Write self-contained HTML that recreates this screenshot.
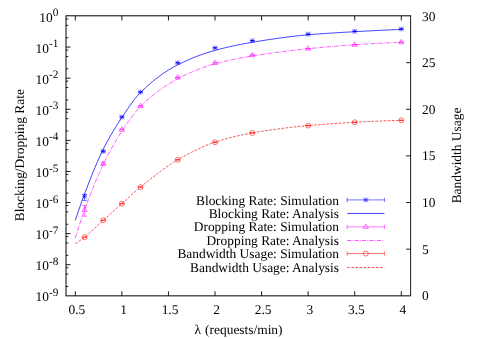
<!DOCTYPE html>
<html><head><meta charset="utf-8"><title>plot</title>
<style>html,body{margin:0;padding:0;background:#fff;}body{width:485px;height:339px;overflow:hidden;font-family:"Liberation Serif",serif;}</style>
</head><body>
<svg width="485" height="339" viewBox="0 0 485 339" style="display:block;will-change:transform">
<rect width="485" height="339" fill="#fff"/>
<g stroke="#000" stroke-width="0.9" fill="none">
<path d="M66.0,15.8 H410.6" stroke-width="1"/><path d="M66.0,15.5 V295.8" stroke-width="1"/><path d="M65.5,295.85 H411.05" stroke-width="1"/><path d="M410.6,15.3 V295.8" stroke-width="0.9"/>
<path d="M75.31,295.8 v-4.5 M75.31,16.0 v4.5"/>
<path d="M121.88,295.8 v-4.5 M121.88,16.0 v4.5"/>
<path d="M168.45,295.8 v-4.5 M168.45,16.0 v4.5"/>
<path d="M215.02,295.8 v-4.5 M215.02,16.0 v4.5"/>
<path d="M261.58,295.8 v-4.5 M261.58,16.0 v4.5"/>
<path d="M308.15,295.8 v-4.5 M308.15,16.0 v4.5"/>
<path d="M354.72,295.8 v-4.5 M354.72,16.0 v4.5"/>
<path d="M401.29,295.8 v-4.5 M401.29,16.0 v4.5"/>
<path d="M66.0,47.09 h4.5"/>
<path d="M66.0,78.18 h4.5"/>
<path d="M66.0,109.27 h4.5"/>
<path d="M66.0,140.36 h4.5"/>
<path d="M66.0,171.44 h4.5"/>
<path d="M66.0,202.53 h4.5"/>
<path d="M66.0,233.62 h4.5"/>
<path d="M66.0,264.71 h4.5"/>
</g>
<g stroke="#000" stroke-width="0.9" fill="none" id="minor">
<path d="M66.0,37.73 h2.25"/>
<path d="M66.0,25.36 h2.25"/>
<path d="M66.0,19.01 h2.25"/>
<path d="M66.0,68.82 h2.25"/>
<path d="M66.0,56.45 h2.25"/>
<path d="M66.0,50.10 h2.25"/>
<path d="M66.0,99.91 h2.25"/>
<path d="M66.0,87.54 h2.25"/>
<path d="M66.0,81.19 h2.25"/>
<path d="M66.0,131.00 h2.25"/>
<path d="M66.0,118.63 h2.25"/>
<path d="M66.0,112.28 h2.25"/>
<path d="M66.0,162.09 h2.25"/>
<path d="M66.0,149.71 h2.25"/>
<path d="M66.0,143.37 h2.25"/>
<path d="M66.0,193.17 h2.25"/>
<path d="M66.0,180.80 h2.25"/>
<path d="M66.0,174.46 h2.25"/>
<path d="M66.0,224.26 h2.25"/>
<path d="M66.0,211.89 h2.25"/>
<path d="M66.0,205.55 h2.25"/>
<path d="M66.0,255.35 h2.25"/>
<path d="M66.0,242.98 h2.25"/>
<path d="M66.0,236.64 h2.25"/>
<path d="M66.0,286.44 h2.25"/>
<path d="M66.0,274.07 h2.25"/>
<path d="M66.0,267.72 h2.25"/>
</g>
<g stroke="#000" stroke-width="0.9" fill="none">
<path d="M410.6,249.17 h-4.5"/>
<path d="M410.6,202.53 h-4.5"/>
<path d="M410.6,155.90 h-4.5"/>
<path d="M410.6,109.27 h-4.5"/>
<path d="M410.6,62.63 h-4.5"/>
</g>
<g font-family="Liberation Serif, serif" font-size="13.42px" fill="#000" text-rendering="geometricPrecision">
<text x="58.3" y="21.60" text-anchor="end">10<tspan font-size="11.3px" dy="-5.5">0</tspan></text>
<text x="58.3" y="52.69" text-anchor="end">10<tspan font-size="11.3px" dy="-5.5">-1</tspan></text>
<text x="58.3" y="83.78" text-anchor="end">10<tspan font-size="11.3px" dy="-5.5">-2</tspan></text>
<text x="58.3" y="114.87" text-anchor="end">10<tspan font-size="11.3px" dy="-5.5">-3</tspan></text>
<text x="58.3" y="145.96" text-anchor="end">10<tspan font-size="11.3px" dy="-5.5">-4</tspan></text>
<text x="58.3" y="177.04" text-anchor="end">10<tspan font-size="11.3px" dy="-5.5">-5</tspan></text>
<text x="58.3" y="208.13" text-anchor="end">10<tspan font-size="11.3px" dy="-5.5">-6</tspan></text>
<text x="58.3" y="239.22" text-anchor="end">10<tspan font-size="11.3px" dy="-5.5">-7</tspan></text>
<text x="58.3" y="270.31" text-anchor="end">10<tspan font-size="11.3px" dy="-5.5">-8</tspan></text>
<text x="58.3" y="301.40" text-anchor="end">10<tspan font-size="11.3px" dy="-5.5">-9</tspan></text>
<text x="76.91" y="314.0" text-anchor="middle">0.5</text>
<text x="123.48" y="314.0" text-anchor="middle">1</text>
<text x="170.05" y="314.0" text-anchor="middle">1.5</text>
<text x="216.62" y="314.0" text-anchor="middle">2</text>
<text x="263.18" y="314.0" text-anchor="middle">2.5</text>
<text x="309.75" y="314.0" text-anchor="middle">3</text>
<text x="356.32" y="314.0" text-anchor="middle">3.5</text>
<text x="402.89" y="314.0" text-anchor="middle">4</text>
<text x="422.1" y="300.30">0</text>
<text x="422.1" y="253.67">5</text>
<text x="422.1" y="207.03">10</text>
<text x="422.1" y="160.40">15</text>
<text x="422.1" y="113.77">20</text>
<text x="422.1" y="67.13">25</text>
<text x="422.1" y="20.50">30</text>
<text x="194.4" y="334.1">λ</text><text x="205.1" y="334.1">(requests/min)</text>
<text transform="translate(24.0,155.2) rotate(-90)" text-anchor="middle">Blocking/Dropping Rate</text>
<text transform="translate(461.2,155.5) rotate(-90)" text-anchor="middle">Bandwidth Usage</text>
<text x="339.0" y="204.50" text-anchor="end">Blocking Rate: Simulation</text>
<text x="339.0" y="217.95" text-anchor="end">Blocking Rate: Analysis</text>
<text x="339.0" y="231.40" text-anchor="end">Dropping Rate: Simulation</text>
<text x="339.0" y="244.85" text-anchor="end">Dropping Rate: Analysis</text>
<text x="339.0" y="258.30" text-anchor="end">Bandwidth Usage: Simulation</text>
<text x="339.0" y="271.75" text-anchor="end">Bandwidth Usage: Analysis</text>
</g>
<g stroke="#0000ff" stroke-width="0.55" fill="none">
<path d="M347.2,199.90 H384.4 M347.2,197.70 v4.4 M384.4,197.70 v4.4"/>
<path d="M363.30,199.90 h5.0 M365.80,197.40 v5.0 M363.42,197.53 l4.75,4.75 M363.42,202.28 l4.75,-4.75"/>
<path d="M84.63,194.30 V200.40 M82.33,194.30 h4.6 M82.33,200.40 h4.6"/>
<path d="M82.13,196.30 h5.0 M84.63,193.80 v5.0 M82.25,193.93 l4.75,4.75 M82.25,198.68 l4.75,-4.75"/>
<path d="M103.25,150.80 V152.00 M100.95,150.80 h4.6 M100.95,152.00 h4.6"/>
<path d="M100.75,151.40 h5.0 M103.25,148.90 v5.0 M100.88,149.03 l4.75,4.75 M100.88,153.78 l4.75,-4.75"/>
<path d="M121.88,116.70 V117.30 M119.58,116.70 h4.6 M119.58,117.30 h4.6"/>
<path d="M119.38,117.00 h5.0 M121.88,114.50 v5.0 M119.51,114.62 l4.75,4.75 M119.51,119.38 l4.75,-4.75"/>
<path d="M140.51,91.90 V92.30 M138.21,91.90 h4.6 M138.21,92.30 h4.6"/>
<path d="M138.01,92.10 h5.0 M140.51,89.60 v5.0 M138.13,89.72 l4.75,4.75 M138.13,94.47 l4.75,-4.75"/>
<path d="M177.76,62.60 V63.00 M175.46,62.60 h4.6 M175.46,63.00 h4.6"/>
<path d="M175.26,62.80 h5.0 M177.76,60.30 v5.0 M175.39,60.42 l4.75,4.75 M175.39,65.17 l4.75,-4.75"/>
<path d="M215.02,47.70 V48.10 M212.72,47.70 h4.6 M212.72,48.10 h4.6"/>
<path d="M212.52,47.90 h5.0 M215.02,45.40 v5.0 M212.64,45.52 l4.75,4.75 M212.64,50.27 l4.75,-4.75"/>
<path d="M252.27,40.50 V40.90 M249.97,40.50 h4.6 M249.97,40.90 h4.6"/>
<path d="M249.77,40.70 h5.0 M252.27,38.20 v5.0 M249.90,38.33 l4.75,4.75 M249.90,43.08 l4.75,-4.75"/>
<path d="M308.15,34.00 V34.40 M305.85,34.00 h4.6 M305.85,34.40 h4.6"/>
<path d="M305.65,34.20 h5.0 M308.15,31.70 v5.0 M305.78,31.83 l4.75,4.75 M305.78,36.58 l4.75,-4.75"/>
<path d="M354.72,31.10 V31.50 M352.42,31.10 h4.6 M352.42,31.50 h4.6"/>
<path d="M352.22,31.30 h5.0 M354.72,28.80 v5.0 M352.34,28.93 l4.75,4.75 M352.34,33.67 l4.75,-4.75"/>
<path d="M401.29,28.80 V29.20 M398.99,28.80 h4.6 M398.99,29.20 h4.6"/>
<path d="M398.79,29.00 h5.0 M401.29,26.50 v5.0 M398.91,26.62 l4.75,4.75 M398.91,31.38 l4.75,-4.75"/>
<path d="M75.31,220.30 L76.95,215.42 L78.59,210.61 L80.23,205.88 L81.87,201.27 L83.50,196.79 L85.14,192.45 L86.78,188.17 L88.42,183.92 L90.06,179.72 L91.69,175.58 L93.33,171.51 L94.97,167.53 L96.61,163.65 L98.25,159.88 L99.88,156.24 L101.52,152.74 L103.16,149.39 L104.80,146.17 L106.44,143.06 L108.07,140.05 L109.71,137.12 L111.35,134.28 L112.99,131.51 L114.63,128.81 L116.26,126.17 L117.90,123.58 L119.54,121.05 L121.18,118.56 L122.82,116.09 L124.46,113.63 L126.09,111.19 L127.73,108.77 L129.37,106.39 L131.01,104.07 L132.65,101.82 L134.28,99.66 L135.92,97.60 L137.56,95.66 L139.20,93.84 L140.84,92.18 L142.47,90.58 L144.11,89.03 L145.75,87.51 L147.39,86.02 L149.03,84.57 L150.66,83.16 L152.30,81.78 L153.94,80.44 L155.58,79.13 L157.22,77.86 L158.85,76.62 L160.49,75.42 L162.13,74.25 L163.77,73.12 L165.41,72.02 L167.04,70.95 L168.68,69.92 L170.32,68.92 L171.96,67.96 L173.60,67.02 L175.23,66.12 L176.87,65.26 L178.51,64.42 L180.15,63.61 L181.79,62.81 L183.43,62.03 L185.06,61.28 L186.70,60.54 L188.34,59.82 L189.98,59.11 L191.62,58.43 L193.25,57.76 L194.89,57.11 L196.53,56.47 L198.17,55.86 L199.81,55.25 L201.44,54.67 L203.08,54.10 L204.72,53.54 L206.36,53.01 L208.00,52.48 L209.63,51.97 L211.27,51.48 L212.91,51.00 L214.55,50.53 L216.19,50.08 L217.82,49.63 L219.46,49.20 L221.10,48.78 L222.74,48.36 L224.38,47.96 L226.01,47.56 L227.65,47.18 L229.29,46.80 L230.93,46.43 L232.57,46.07 L234.20,45.72 L235.84,45.37 L237.48,45.04 L239.12,44.71 L240.76,44.39 L242.40,44.07 L244.03,43.76 L245.67,43.46 L247.31,43.16 L248.95,42.87 L250.59,42.59 L252.22,42.31 L253.86,42.03 L255.50,41.76 L257.14,41.49 L258.78,41.22 L260.41,40.96 L262.05,40.69 L263.69,40.43 L265.33,40.18 L266.97,39.92 L268.60,39.67 L270.24,39.42 L271.88,39.18 L273.52,38.94 L275.16,38.70 L276.79,38.46 L278.43,38.23 L280.07,38.01 L281.71,37.78 L283.35,37.56 L284.98,37.35 L286.62,37.14 L288.26,36.93 L289.90,36.73 L291.54,36.53 L293.17,36.34 L294.81,36.15 L296.45,35.97 L298.09,35.79 L299.73,35.61 L301.37,35.44 L303.00,35.28 L304.64,35.12 L306.28,34.97 L307.92,34.82 L309.56,34.68 L311.19,34.54 L312.83,34.40 L314.47,34.27 L316.11,34.14 L317.75,34.02 L319.38,33.89 L321.02,33.77 L322.66,33.66 L324.30,33.54 L325.94,33.43 L327.57,33.32 L329.21,33.21 L330.85,33.10 L332.49,33.00 L334.13,32.90 L335.76,32.80 L337.40,32.70 L339.04,32.60 L340.68,32.50 L342.32,32.41 L343.95,32.31 L345.59,32.22 L347.23,32.12 L348.87,32.03 L350.51,31.94 L352.14,31.85 L353.78,31.75 L355.42,31.66 L357.06,31.57 L358.70,31.48 L360.34,31.39 L361.97,31.30 L363.61,31.21 L365.25,31.12 L366.89,31.03 L368.53,30.94 L370.16,30.86 L371.80,30.77 L373.44,30.69 L375.08,30.60 L376.72,30.52 L378.35,30.44 L379.99,30.36 L381.63,30.28 L383.27,30.20 L384.91,30.12 L386.54,30.05 L388.18,29.97 L389.82,29.89 L391.46,29.82 L393.10,29.75 L394.73,29.68 L396.37,29.61 L398.01,29.54 L399.65,29.47 L401.29,29.40" stroke-width="0.75"/>
<path d="M347.2,213.45 H384.4" stroke-width="0.75"/>
</g>
<g stroke="#ff00ff" stroke-width="0.55" fill="none">
<path d="M347.2,226.85 H384.4 M347.2,224.65 v4.4 M384.4,224.65 v4.4"/>
<path d="M365.80,224.10 L368.41,228.56 L363.19,228.56 Z"/>
<path d="M84.63,205.40 V216.20 M82.33,205.40 h4.6 M82.33,216.20 h4.6"/>
<path d="M84.63,206.95 L87.24,211.41 L82.01,211.41 Z"/>
<path d="M103.25,162.60 V164.60 M100.95,162.60 h4.6 M100.95,164.60 h4.6"/>
<path d="M103.25,160.85 L105.87,165.31 L100.64,165.31 Z"/>
<path d="M121.88,129.10 V129.90 M119.58,129.10 h4.6 M119.58,129.90 h4.6"/>
<path d="M121.88,126.75 L124.49,131.21 L119.27,131.21 Z"/>
<path d="M140.51,105.60 V106.20 M138.21,105.60 h4.6 M138.21,106.20 h4.6"/>
<path d="M140.51,103.15 L143.12,107.61 L137.90,107.61 Z"/>
<path d="M177.76,77.10 V77.50 M175.46,77.10 h4.6 M175.46,77.50 h4.6"/>
<path d="M177.76,74.55 L180.37,79.00 L175.15,79.00 Z"/>
<path d="M215.02,62.60 V63.00 M212.72,62.60 h4.6 M212.72,63.00 h4.6"/>
<path d="M215.02,60.05 L217.63,64.50 L212.40,64.50 Z"/>
<path d="M252.27,54.80 V55.20 M249.97,54.80 h4.6 M249.97,55.20 h4.6"/>
<path d="M252.27,52.25 L254.88,56.70 L249.66,56.70 Z"/>
<path d="M308.15,48.30 V48.70 M305.85,48.30 h4.6 M305.85,48.70 h4.6"/>
<path d="M308.15,45.75 L310.76,50.20 L305.54,50.20 Z"/>
<path d="M354.72,44.40 V44.80 M352.42,44.40 h4.6 M352.42,44.80 h4.6"/>
<path d="M354.72,41.85 L357.33,46.30 L352.11,46.30 Z"/>
<path d="M401.29,41.90 V42.30 M398.99,41.90 h4.6 M398.99,42.30 h4.6"/>
<path d="M401.29,39.35 L403.90,43.80 L398.67,43.80 Z"/>
<path d="M75.31,238.10 L76.95,232.83 L78.59,227.64 L80.23,222.57 L81.87,217.66 L83.50,212.93 L85.14,208.40 L86.78,203.97 L88.42,199.62 L90.06,195.35 L91.69,191.17 L93.33,187.08 L94.97,183.08 L96.61,179.18 L98.25,175.39 L99.88,171.70 L101.52,168.14 L103.16,164.69 L104.80,161.35 L106.44,158.09 L108.07,154.91 L109.71,151.81 L111.35,148.79 L112.99,145.85 L114.63,142.98 L116.26,140.19 L117.90,137.48 L119.54,134.84 L121.18,132.28 L122.82,129.78 L124.46,127.31 L126.09,124.87 L127.73,122.47 L129.37,120.13 L131.01,117.85 L132.65,115.65 L134.28,113.54 L135.92,111.52 L137.56,109.62 L139.20,107.83 L140.84,106.18 L142.47,104.59 L144.11,103.05 L145.75,101.53 L147.39,100.06 L149.03,98.62 L150.66,97.21 L152.30,95.84 L153.94,94.51 L155.58,93.21 L157.22,91.94 L158.85,90.71 L160.49,89.51 L162.13,88.34 L163.77,87.21 L165.41,86.11 L167.04,85.04 L168.68,84.00 L170.32,82.99 L171.96,82.02 L173.60,81.07 L175.23,80.16 L176.87,79.27 L178.51,78.41 L180.15,77.57 L181.79,76.75 L183.43,75.94 L185.06,75.15 L186.70,74.38 L188.34,73.62 L189.98,72.88 L191.62,72.16 L193.25,71.45 L194.89,70.76 L196.53,70.09 L198.17,69.44 L199.81,68.81 L201.44,68.19 L203.08,67.59 L204.72,67.01 L206.36,66.45 L208.00,65.91 L209.63,65.39 L211.27,64.88 L212.91,64.40 L214.55,63.93 L216.19,63.48 L217.82,63.04 L219.46,62.62 L221.10,62.21 L222.74,61.80 L224.38,61.41 L226.01,61.03 L227.65,60.66 L229.29,60.30 L230.93,59.94 L232.57,59.60 L234.20,59.26 L235.84,58.94 L237.48,58.62 L239.12,58.30 L240.76,58.00 L242.40,57.70 L244.03,57.40 L245.67,57.11 L247.31,56.83 L248.95,56.55 L250.59,56.28 L252.22,56.01 L253.86,55.74 L255.50,55.48 L257.14,55.22 L258.78,54.96 L260.41,54.71 L262.05,54.46 L263.69,54.22 L265.33,53.97 L266.97,53.74 L268.60,53.50 L270.24,53.27 L271.88,53.04 L273.52,52.81 L275.16,52.59 L276.79,52.37 L278.43,52.15 L280.07,51.94 L281.71,51.72 L283.35,51.52 L284.98,51.31 L286.62,51.11 L288.26,50.91 L289.90,50.71 L291.54,50.52 L293.17,50.33 L294.81,50.14 L296.45,49.95 L298.09,49.77 L299.73,49.59 L301.37,49.41 L303.00,49.23 L304.64,49.06 L306.28,48.89 L307.92,48.72 L309.56,48.56 L311.19,48.39 L312.83,48.23 L314.47,48.07 L316.11,47.92 L317.75,47.76 L319.38,47.61 L321.02,47.46 L322.66,47.31 L324.30,47.16 L325.94,47.01 L327.57,46.87 L329.21,46.73 L330.85,46.59 L332.49,46.45 L334.13,46.32 L335.76,46.18 L337.40,46.05 L339.04,45.92 L340.68,45.80 L342.32,45.67 L343.95,45.55 L345.59,45.43 L347.23,45.31 L348.87,45.20 L350.51,45.08 L352.14,44.97 L353.78,44.86 L355.42,44.75 L357.06,44.65 L358.70,44.54 L360.34,44.44 L361.97,44.34 L363.61,44.23 L365.25,44.13 L366.89,44.03 L368.53,43.94 L370.16,43.84 L371.80,43.74 L373.44,43.65 L375.08,43.56 L376.72,43.46 L378.35,43.38 L379.99,43.29 L381.63,43.20 L383.27,43.12 L384.91,43.03 L386.54,42.95 L388.18,42.87 L389.82,42.79 L391.46,42.72 L393.10,42.64 L394.73,42.57 L396.37,42.50 L398.01,42.43 L399.65,42.36 L401.29,42.30" stroke-dasharray="4.3,1.1,0.9,1.1" stroke-width="0.65"/>
<path d="M347.2,240.50 H384.4" stroke-dasharray="4.3,1.1,0.9,1.1" stroke-width="0.65"/>
</g>
<g stroke="#ff0000" stroke-width="0.55" fill="none">
<path d="M347.2,253.55 H384.4 M347.2,251.35 v4.4 M384.4,251.35 v4.4"/>
<circle cx="365.80" cy="253.55" r="2.5"/>
<path d="M84.63,237.00 V237.40 M82.33,237.00 h4.6 M82.33,237.40 h4.6"/>
<circle cx="84.63" cy="237.20" r="2.5"/>
<path d="M103.25,220.10 V220.50 M100.95,220.10 h4.6 M100.95,220.50 h4.6"/>
<circle cx="103.25" cy="220.30" r="2.5"/>
<path d="M121.88,203.40 V203.80 M119.58,203.40 h4.6 M119.58,203.80 h4.6"/>
<circle cx="121.88" cy="203.60" r="2.5"/>
<path d="M140.51,186.90 V187.30 M138.21,186.90 h4.6 M138.21,187.30 h4.6"/>
<circle cx="140.51" cy="187.10" r="2.5"/>
<path d="M177.76,159.60 V160.00 M175.46,159.60 h4.6 M175.46,160.00 h4.6"/>
<circle cx="177.76" cy="159.80" r="2.5"/>
<path d="M215.02,142.00 V142.40 M212.72,142.00 h4.6 M212.72,142.40 h4.6"/>
<circle cx="215.02" cy="142.20" r="2.5"/>
<path d="M252.27,132.70 V133.10 M249.97,132.70 h4.6 M249.97,133.10 h4.6"/>
<circle cx="252.27" cy="132.90" r="2.5"/>
<path d="M308.15,125.40 V125.80 M305.85,125.40 h4.6 M305.85,125.80 h4.6"/>
<circle cx="308.15" cy="125.60" r="2.5"/>
<path d="M354.72,122.10 V122.50 M352.42,122.10 h4.6 M352.42,122.50 h4.6"/>
<circle cx="354.72" cy="122.30" r="2.5"/>
<path d="M401.29,120.10 V120.50 M398.99,120.10 h4.6 M398.99,120.50 h4.6"/>
<circle cx="401.29" cy="120.30" r="2.5"/>
<path d="M75.31,243.70 L76.95,242.65 L78.59,241.57 L80.23,240.44 L81.87,239.28 L83.50,238.06 L85.14,236.80 L86.78,235.46 L88.42,234.07 L90.06,232.62 L91.69,231.13 L93.33,229.61 L94.97,228.07 L96.61,226.51 L98.25,224.96 L99.88,223.41 L101.52,221.88 L103.16,220.38 L104.80,218.91 L106.44,217.43 L108.07,215.96 L109.71,214.49 L111.35,213.02 L112.99,211.55 L114.63,210.08 L116.26,208.61 L117.90,207.15 L119.54,205.69 L121.18,204.23 L122.82,202.76 L124.46,201.29 L126.09,199.80 L127.73,198.31 L129.37,196.82 L131.01,195.33 L132.65,193.86 L134.28,192.40 L135.92,190.96 L137.56,189.55 L139.20,188.18 L140.84,186.83 L142.47,185.51 L144.11,184.18 L145.75,182.86 L147.39,181.54 L149.03,180.23 L150.66,178.92 L152.30,177.62 L153.94,176.34 L155.58,175.07 L157.22,173.81 L158.85,172.56 L160.49,171.33 L162.13,170.13 L163.77,168.94 L165.41,167.77 L167.04,166.62 L168.68,165.50 L170.32,164.41 L171.96,163.34 L173.60,162.30 L175.23,161.29 L176.87,160.32 L178.51,159.37 L180.15,158.44 L181.79,157.52 L183.43,156.60 L185.06,155.70 L186.70,154.81 L188.34,153.94 L189.98,153.07 L191.62,152.23 L193.25,151.39 L194.89,150.58 L196.53,149.78 L198.17,149.00 L199.81,148.23 L201.44,147.49 L203.08,146.77 L204.72,146.07 L206.36,145.39 L208.00,144.73 L209.63,144.10 L211.27,143.49 L212.91,142.91 L214.55,142.35 L216.19,141.82 L217.82,141.30 L219.46,140.79 L221.10,140.29 L222.74,139.80 L224.38,139.33 L226.01,138.86 L227.65,138.41 L229.29,137.97 L230.93,137.54 L232.57,137.11 L234.20,136.71 L235.84,136.31 L237.48,135.92 L239.12,135.54 L240.76,135.18 L242.40,134.82 L244.03,134.47 L245.67,134.14 L247.31,133.82 L248.95,133.50 L250.59,133.20 L252.22,132.91 L253.86,132.62 L255.50,132.34 L257.14,132.07 L258.78,131.80 L260.41,131.53 L262.05,131.27 L263.69,131.01 L265.33,130.76 L266.97,130.51 L268.60,130.27 L270.24,130.03 L271.88,129.79 L273.52,129.56 L275.16,129.34 L276.79,129.11 L278.43,128.90 L280.07,128.68 L281.71,128.47 L283.35,128.26 L284.98,128.06 L286.62,127.86 L288.26,127.67 L289.90,127.48 L291.54,127.29 L293.17,127.11 L294.81,126.93 L296.45,126.75 L298.09,126.58 L299.73,126.41 L301.37,126.25 L303.00,126.09 L304.64,125.93 L306.28,125.77 L307.92,125.62 L309.56,125.47 L311.19,125.33 L312.83,125.18 L314.47,125.04 L316.11,124.91 L317.75,124.77 L319.38,124.64 L321.02,124.51 L322.66,124.38 L324.30,124.25 L325.94,124.13 L327.57,124.01 L329.21,123.89 L330.85,123.77 L332.49,123.66 L334.13,123.55 L335.76,123.43 L337.40,123.33 L339.04,123.22 L340.68,123.12 L342.32,123.01 L343.95,122.91 L345.59,122.82 L347.23,122.72 L348.87,122.62 L350.51,122.53 L352.14,122.44 L353.78,122.35 L355.42,122.26 L357.06,122.18 L358.70,122.09 L360.34,122.00 L361.97,121.92 L363.61,121.84 L365.25,121.76 L366.89,121.67 L368.53,121.59 L370.16,121.52 L371.80,121.44 L373.44,121.36 L375.08,121.29 L376.72,121.21 L378.35,121.14 L379.99,121.07 L381.63,121.00 L383.27,120.93 L384.91,120.87 L386.54,120.80 L388.18,120.74 L389.82,120.68 L391.46,120.62 L393.10,120.56 L394.73,120.51 L396.37,120.45 L398.01,120.40 L399.65,120.35 L401.29,120.30" stroke-dasharray="2.6,1.5" stroke-width="0.7"/>
<path d="M347.2,267.45 H384.4" stroke-dasharray="2.6,1.5" stroke-width="0.7"/>
</g>
</svg>
</body></html>
